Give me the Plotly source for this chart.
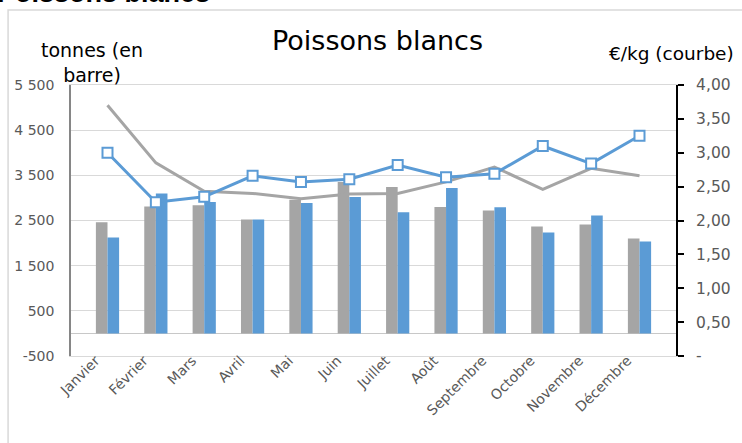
import plotly.graph_objects as go

mois = ["Janvier", "Février", "Mars", "Avril", "Mai", "Juin", "Juillet",
        "Août", "Septembre", "Octobre", "Novembre", "Décembre"]
tonnes_gris = [2464, 2811, 2840, 2524, 2960, 3350, 3240, 2797, 2723, 2369, 2413, 2103]
tonnes_bleu = [2125, 3099, 2907, 2524, 2885, 3018, 2682, 3217, 2795, 2236, 2612, 2037]
prix_gris = [3.70, 2.85, 2.43, 2.40, 2.32, 2.39, 2.40, 2.57, 2.79, 2.46, 2.77, 2.66]
prix_bleu = [3.00, 2.27, 2.35, 2.66, 2.57, 2.61, 2.82, 2.64, 2.69, 3.10, 2.84, 3.25]

y1_ticks = [-500, 500, 1500, 2500, 3500, 4500, 5500]
y1_text = ["-500", "500", "1 500", "2 500", "3 500", "4 500", "5 500"]
y2_ticks = [0, 0.5, 1.0, 1.5, 2.0, 2.5, 3.0, 3.5, 4.0]
y2_text = ["-", "0,50", "1,00", "1,50", "2,00", "2,50", "3,00", "3,50", "4,00"]

GRIS = "#A5A5A5"
BLEU = "#5B9BD5"
FONT = "DejaVu Sans"
TICK = "#595959"

fig = go.Figure()
fig.add_trace(go.Bar(x=mois, y=tonnes_gris, marker_color=GRIS, marker_line_width=0,
                     showlegend=False))
fig.add_trace(go.Bar(x=mois, y=tonnes_bleu, marker_color=BLEU, marker_line_width=0,
                     showlegend=False))
fig.add_trace(go.Scatter(x=mois, y=prix_gris, yaxis="y2", mode="lines",
                         line=dict(color=GRIS, width=3), showlegend=False))
fig.add_trace(go.Scatter(x=mois, y=prix_bleu, yaxis="y2", mode="lines+markers",
                         line=dict(color=BLEU, width=3),
                         marker=dict(symbol="square", size=10, color="white",
                                     line=dict(color=BLEU, width=2)),
                         showlegend=False))

fig.update_layout(
    width=742, height=443,
    margin=dict(l=71, r=66, t=85, b=87),
    paper_bgcolor="white", plot_bgcolor="white",
    barmode="group", bargap=0.52, bargroupgap=0,
    font=dict(family=FONT, color=TICK, size=14),
    xaxis=dict(type="category", tickangle=-45, showgrid=False,
               showline=True, mirror=True, linecolor="#D9D9D9", linewidth=1,
               ticks="", ticklabelstandoff=-10, ticklabelshift=-12,
               tickfont=dict(size=14, color=TICK)),
    yaxis=dict(range=[-500, 5500], tickvals=y1_ticks, ticktext=y1_text,
               showgrid=True, gridcolor="#D9D9D9", gridwidth=1,
               zeroline=True, zerolinecolor="#C8C8C8", zerolinewidth=1,
               showline=True, linecolor="#868686", linewidth=1.5,
               ticks="", ticklabelstandoff=12, tickfont=dict(size=14, color=TICK)),
    yaxis2=dict(range=[0, 4], tickvals=y2_ticks, ticktext=y2_text,
                overlaying="y", side="right", showgrid=False, zeroline=False,
                showline=True, linecolor="black", linewidth=2,
                ticks="outside", ticklen=6, tickcolor="black", tickwidth=1.5,
                ticklabelstandoff=9, tickfont=dict(size=15.5, color=TICK)),
    shapes=[dict(type="rect", xref="paper", yref="paper",
                 x0=-0.104, x1=1.2, y0=-0.4, y1=1.277,
                 line=dict(color="#D9D9D9", width=1.5), fillcolor="rgba(0,0,0,0)",
                 layer="below")],
    annotations=[
        dict(text="Poissons blancs", xref="paper", yref="paper", x=0.506, y=1.10,
             xanchor="center", yanchor="bottom", showarrow=False,
             font=dict(family=FONT, size=27, color="black")),
        dict(text="tonnes (en<br>barre)", xref="paper", yref="paper", x=0.035, y=0.99,
             xanchor="center", yanchor="bottom", showarrow=False,
             font=dict(family=FONT, size=19, color="black")),
        dict(text="€/kg (courbe)", xref="paper", yref="paper", x=0.993, y=1.07,
             xanchor="center", yanchor="bottom", showarrow=False,
             font=dict(family=FONT, size=18.5, color="black")),
        dict(text="<b>Poissons blancs</b>", xref="paper", yref="paper", x=-0.125, y=1.277,
             xanchor="left", yanchor="bottom", showarrow=False,
             font=dict(family="Liberation Sans", size=27, color="black")),
    ],
)

fig.write_html("out.html", config={"displayModeBar": False},
               post_script="document.body.style.margin='0px';")
